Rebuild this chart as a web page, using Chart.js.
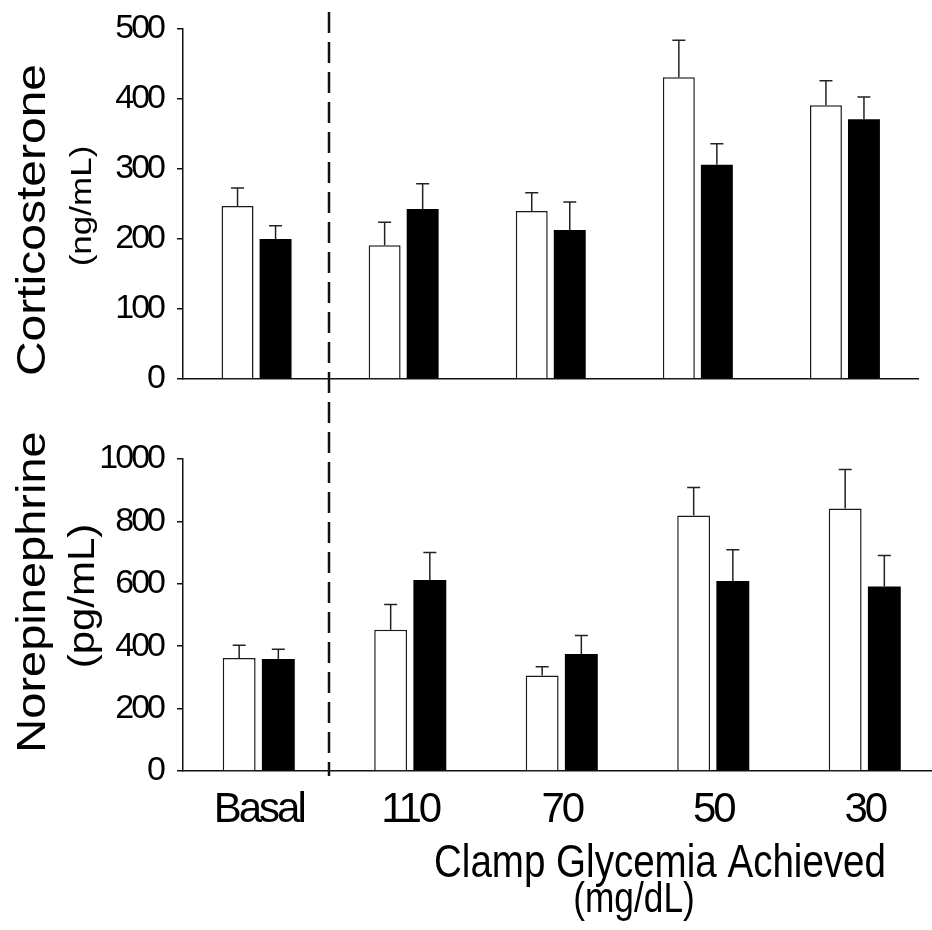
<!DOCTYPE html>
<html>
<head>
<meta charset="utf-8">
<script src="https://cdn.jsdelivr.net/npm/chart.js@4.4.1/dist/chart.umd.min.js"></script>
<style>
  html, body { margin: 0; padding: 0; background: #fff; overflow: hidden; }
  #wrap { position: relative; width: 932px; height: 930px; overflow: hidden; background: #fff; }
  canvas { position: absolute; left: 0; }
  #top { top: 0; }
  #bottom { top: 400px; }
  #sep { top: 0; pointer-events: none; }
</style>
</head>
<body>
<div id="wrap">
  <canvas id="top" width="932" height="400" style="width:932px;height:400px"></canvas>
  <canvas id="bottom" width="945" height="530" style="width:945px;height:530px"></canvas>
  <canvas id="sep" width="932" height="930" style="width:932px;height:930px"></canvas>
</div>
<script>
// Clamp glycemia groups
const categories = ['Basal', '110', '70', '50', '30'];

// Corticosterone (ng/mL): open and filled bars, upper SEM
const corticoOpen = [247, 191, 240, 431, 391];
const corticoOpenErr = [26, 33, 26, 53, 35];
const corticoFilled = [200, 243, 213, 306, 371];
const corticoFilledErr = [19, 36, 40, 30, 32];
const corticoTicks = [0, 100, 200, 300, 400, 500];

// Norepinephrine (pg/mL): open and filled bars, upper SEM
const norepiOpen = [362, 453, 306, 819, 841];
const norepiOpenErr = [41, 81, 28, 90, 125];
const norepiFilled = [359, 612, 375, 609, 591];
const norepiFilledErr = [31, 88, 59, 100, 100];
const norepiTicks = [0, 200, 400, 600, 800, 1000];

const FONT = "'Liberation Sans', Arial, sans-serif";
const INK = '#111';

// Tight type for the axis labels
const tightText = {
  id: 'tightText',
  beforeDraw(chart) {
    chart.ctx.letterSpacing = '-3px';
  }
};

// Upward-only error bars with a short cap
const errorBars = {
  id: 'errorBars',
  afterDatasetsDraw(chart) {
    const { ctx } = chart;
    const yScale = chart.scales.y;
    chart.data.datasets.forEach((ds, i) => {
      const meta = chart.getDatasetMeta(i);
      meta.data.forEach((bar, j) => {
        const v = ds.data[j];
        const e = ds.errors[j];
        const y0 = yScale.getPixelForValue(v);
        const y1 = yScale.getPixelForValue(v + e);
        ctx.save();
        ctx.strokeStyle = '#222';
        ctx.lineWidth = 1.5;
        ctx.beginPath();
        ctx.moveTo(bar.x, y0);
        ctx.lineTo(bar.x, y1);
        ctx.moveTo(bar.x - 6.5, y1);
        ctx.lineTo(bar.x + 6.5, y1);
        ctx.stroke();
        ctx.restore();
      });
    });
  }
};

// Free-standing titles, drawn slightly condensed like the rest of the type
function textPlugin(items) {
  return {
    id: 'freeText',
    afterDraw(chart) {
      const { ctx } = chart;
      items.forEach(t => {
        ctx.save();
        ctx.letterSpacing = '0px';
        ctx.translate(t.x, t.y);
        ctx.scale(t.sx, 1);
        if (t.rotate) ctx.rotate(-Math.PI / 2);
        ctx.font = `${t.size}px ${FONT}`;
        ctx.fillStyle = '#000';
        ctx.textAlign = 'center';
        ctx.textBaseline = t.rotate ? 'middle' : 'alphabetic';
        ctx.fillText(t.text, 0, 0);
        ctx.restore();
      });
    }
  };
}

function makeChart(canvas, cfg) {
  return new Chart(canvas, {
    type: 'bar',
    data: {
      labels: categories,
      datasets: [
        {
          label: 'Open',
          data: cfg.open,
          errors: cfg.openErr,
          backgroundColor: '#fff',
          borderColor: '#1a1a1a',
          borderWidth: 1.5,
          categoryPercentage: 0.517,
          barPercentage: 0.84
        },
        {
          label: 'Filled',
          data: cfg.filled,
          errors: cfg.filledErr,
          backgroundColor: '#000',
          borderColor: '#000',
          borderWidth: 0,
          categoryPercentage: 0.517,
          barPercentage: 0.84
        }
      ]
    },
    options: {
      responsive: false,
      animation: false,
      events: [],
      layout: { padding: { left: 0, top: cfg.padTop, right: cfg.padRight, bottom: 0 } },
      plugins: { legend: { display: false }, tooltip: { enabled: false }, title: { display: false } },
      scales: {
        x: {
          type: 'category',
          offset: true,
          grid: { display: false, drawTicks: false },
          border: { display: true, color: INK, width: 1.5 },
          afterFit: s => { s.height = cfg.xHeight; s.paddingLeft = 0; s.paddingRight = 0; },
          ticks: {
            display: cfg.showLabels,
            padding: 14,
            color: '#000',
            maxRotation: 0,
            autoSkip: false,
            font: { family: FONT, size: 42 }
          }
        },
        y: {
          min: 0,
          max: cfg.ticks[cfg.ticks.length - 1],
          afterBuildTicks: s => { s.ticks = cfg.ticks.map(v => ({ value: v })); },
          afterFit: s => { s.width = 183; s.paddingTop = 0; s.paddingBottom = 0; },
          grid: { display: true, drawOnChartArea: false, drawTicks: true, tickLength: 6, color: INK, lineWidth: 1.5 },
          border: { display: true, color: INK, width: 1.5 },
          ticks: {
            padding: 14,
            color: '#000',
            font: { family: FONT, size: 34 },
            callback: v => String(v)
          }
        }
      }
    },
    plugins: [tightText, errorBars, textPlugin(cfg.texts)]
  });
}

makeChart(document.getElementById('top'), {
  open: corticoOpen, openErr: corticoOpenErr,
  filled: corticoFilled, filledErr: corticoFilledErr,
  ticks: corticoTicks,
  padTop: 29, padRight: 13.5, xHeight: 21, showLabels: false,
  texts: [
    { text: 'Corticosterone', size: 48, x: 34, y: 220, rotate: true, sx: 0.86 },
    { text: '(ng/mL)', size: 35, x: 83, y: 206, rotate: true, sx: 0.86 }
  ]
});

makeChart(document.getElementById('bottom'), {
  open: norepiOpen, openErr: norepiOpenErr,
  filled: norepiFilled, filledErr: norepiFilledErr,
  ticks: norepiTicks,
  padTop: 59, padRight: 4.5, xHeight: 159, showLabels: true,
  texts: [
    { text: 'Norepinephrine', size: 47, x: 34, y: 192, rotate: true, sx: 0.86 },
    { text: '(pg/mL)', size: 42, x: 84, y: 196, rotate: true, sx: 0.86 },
    { text: 'Clamp Glycemia Achieved', size: 47, x: 660, y: 477, sx: 0.82 },
    { text: '(mg/dL)', size: 43, x: 634, y: 512, sx: 0.82 }
  ]
});

// Dashed divider between the basal group and the clamp groups
(function () {
  const c = document.getElementById('sep');
  const ctx = c.getContext('2d');
  ctx.strokeStyle = INK;
  ctx.lineWidth = 2.5;
  ctx.setLineDash([21, 9]);
  ctx.beginPath();
  ctx.moveTo(329, 12);
  ctx.lineTo(329, 776);
  ctx.stroke();
})();
</script>
</body>
</html>
